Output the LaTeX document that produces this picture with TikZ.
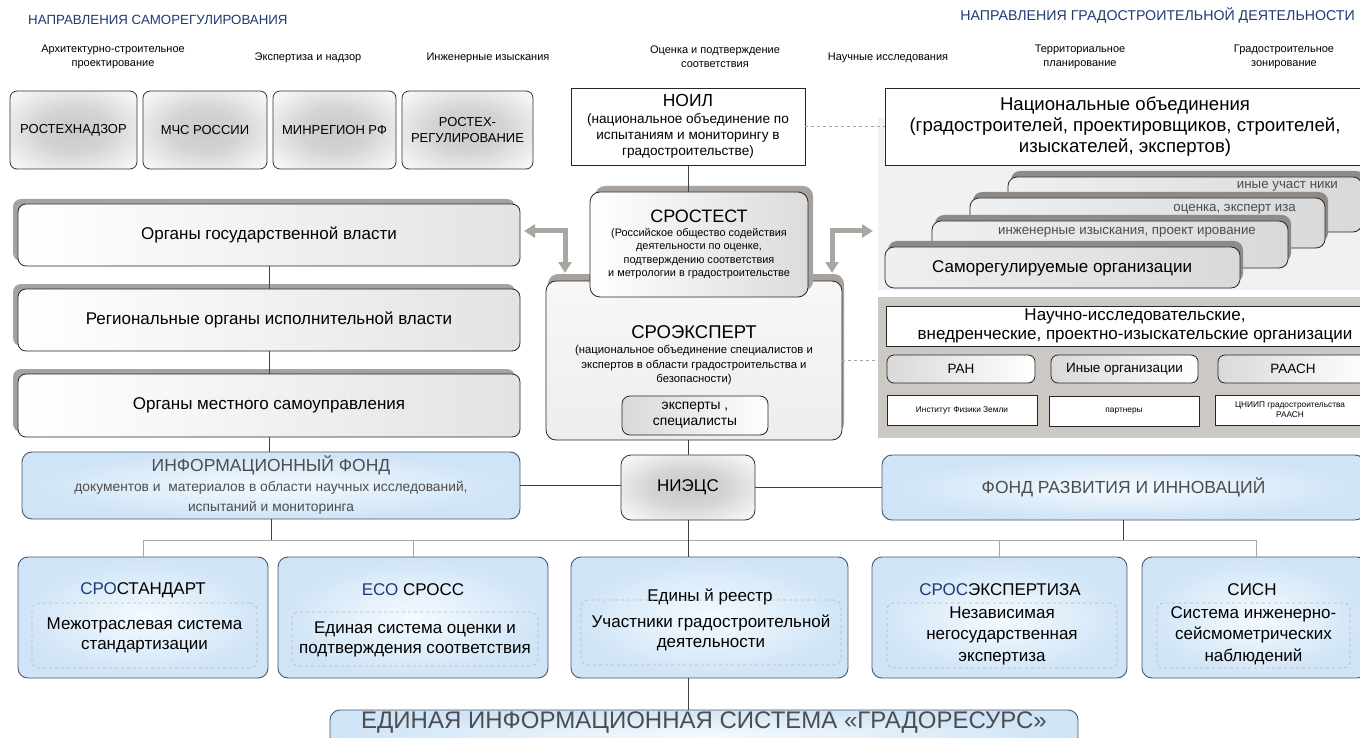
\documentclass[tikz,border=0pt]{standalone}
\usepackage{fontspec}
\setmainfont{Liberation Sans}
\usetikzlibrary{shadows,arrows.meta}
\newcommand\fs[2]{\fontsize{#1}{#2}\selectfont}
\definecolor{dblue}{HTML}{1F3B73}
\definecolor{gtext}{HTML}{4D4D4D}
\definecolor{shadc}{HTML}{A8A29E}
\definecolor{shadd}{HTML}{908A86}
\definecolor{panelA}{HTML}{F1F1F1}
\definecolor{panelB}{HTML}{CCC8C4}
\definecolor{arrc}{HTML}{AAA6A2}
\definecolor{bborder}{HTML}{46566F}
\definecolor{bin}{HTML}{F4FAFF}
\definecolor{bout}{HTML}{CFE4F6}
\pgfdeclareradialshading{softgray}{\pgfpoint{0bp}{0bp}}{color(0bp)=(gray!42); color(14bp)=(gray!34); color(30bp)=(gray!10); color(40bp)=(white); color(50bp)=(white)}
\begin{document}
\begin{tikzpicture}[x=1pt,y=-1pt,
  bx/.style={anchor=north west,inner sep=0pt,outer sep=0pt,align=center},
  tlbox/.style={bx,draw=black!80,line width=0.8pt,rounded corners=7pt,shading=softgray,font=\fs{13}{15.5}},
  orgbox/.style={bx,draw=black!85,line width=0.8pt,rounded corners=8pt,left color=white,right color=gray!22,font=\fs{17}{19},
     general shadow={fill=shadc,shadow xshift=-5pt,shadow yshift=5pt}},
  card/.style={bx,draw=black!85,line width=0.8pt,rounded corners=9pt,left color=gray!12,right color=gray!30,
     general shadow={fill=shadd,shadow xshift=3pt,shadow yshift=6pt}},
  wbox/.style={bx,draw=black!85,line width=0.8pt,fill=white},
  sgray/.style={bx,draw=black!85,line width=0.8pt,rounded corners=7pt,left color=gray!30,right color=white,font=\fs{13.5}{15}},
  bluebox/.style={bx,draw=bborder,line width=0.9pt,rounded corners=10pt,inner color=bin,outer color=bout},
  inner/.style={bx,draw=gray!55,dashed,line width=0.6pt,rounded corners=7pt,font=\fs{17}{20}},
  ttl/.style={inner sep=0pt,font=\fs{17}{19}},
  lab/.style={inner sep=0pt,align=center,font=\fs{11}{14}},
  conn/.style={draw=black!75,line width=0.7pt},
  bus/.style={draw=gray!70,line width=0.9pt},
  dsh/.style={draw=gray!70,dashed,line width=0.8pt},
  garr/.style={draw=arrc,line width=5pt,{Triangle[width=13pt,length=11pt]}-{Triangle[width=13pt,length=11pt]}}
]
\useasboundingbox (0,0) rectangle (1360,738);
\fill[white] (0,0) rectangle (1360,738);

% headers
\node[inner sep=0pt,anchor=west,text=dblue,font=\fs{13.3}{15}] (h1) at (28,20) {НАПРАВЛЕНИЯ САМОРЕГУЛИРОВАНИЯ};
\node[inner sep=0pt,anchor=east,text=dblue,font=\fs{14.2}{16}] (h2) at (1355,16) {НАПРАВЛЕНИЯ ГРАДОСТРОИТЕЛЬНОЙ ДЕЯТЕЛЬНОСТИ};

% column labels
\node[lab] (l1) at (113,57) {Архитектурно-строительное\\проектирование};
\node[lab] (l2) at (308,58) {Экспертиза и надзор};
\node[lab] (l3) at (488,58) {Инженерные изыскания};
\node[lab] (l4) at (715,57) {Оценка и подтверждение\\соответствия};
\node[lab] (l5) at (888,58) {Научные исследования};
\node[lab] (l6) at (1080,57) {Территориальное\\планирование};
\node[lab] (l7) at (1284,57) {Градостроительное\\зонирование};

% top-left boxes
\node[tlbox,minimum width=127pt,minimum height=78pt] (t1) at (10,91) {РОСТЕХНАДЗОР};
\node[tlbox,minimum width=124pt,minimum height=78pt] (t2) at (143,91) {МЧС РОССИИ};
\node[tlbox,minimum width=123pt,minimum height=78pt] (t3) at (273,91) {МИНРЕГИОН РФ};
\node[tlbox,minimum width=131pt,minimum height=78pt] (t4) at (402,91) {РОСТЕХ-\\РЕГУЛИРОВАНИЕ};

% right panels
\node[bx,fill=panelA,minimum width=482pt,minimum height=172pt] (pA) at (878,118) {};
\node[bx,fill=panelB,minimum width=482pt,minimum height=141pt] (pB) at (878,297) {};

% NOIL
\node[wbox,minimum width=234pt,minimum height=77pt,font=\fs{13.6}{16.3}] (noil) at (571,88)
  {{\fs{17.5}{19}НОИЛ}\\(национальное объединение по\\испытаниям и мониторингу в\\градостроительстве)};
% national
\node[wbox,minimum width=480pt,minimum height=77pt,font=\fs{18.6}{21.3}] (natl) at (885,88)
  {Национальные объединения\\(градостроителей, проектировщиков, строителей,\\изыскателей, экспертов)};
\draw[dsh] (noil.east) -- (natl.west);

% SRO stack
\node[card,minimum width=354pt,minimum height=55pt] (c4) at (1008,177) {};
\node[inner sep=0pt,anchor=east,text=gtext,font=\fs{13.3}{15}] (c4t) at (1338,186) {иные участ ники};
\node[card,minimum width=355pt,minimum height=50pt] (c3) at (970,198) {};
\node[inner sep=0pt,anchor=east,text=gtext,font=\fs{13.3}{15}] (c3t) at (1296,209) {оценка, эксперт иза};
\node[card,minimum width=356pt,minimum height=47pt] (c2) at (932,221) {};
\node[inner sep=0pt,anchor=east,text=gtext,font=\fs{13.3}{15}] (c2t) at (1256,232) {инженерные изыскания, проект ирование};
\node[card,minimum width=355pt,minimum height=41pt] (c1) at (885,247) {};
\node[inner sep=0pt,anchor=west,font=\fs{17}{19}] (c1t) at (932,268) {Саморегулируемые организации};

% research orgs
\node[wbox,minimum width=498pt,minimum height=40pt,font=\fs{17}{19.5}] (nio) at (886,306)
  {Научно-исследовательские,\\внедренческие, проектно-изыскательские организации};
\node[sgray,minimum width=148pt,minimum height=28pt] (ran) at (887,355) {РАН};
\node[sgray,minimum width=147pt,minimum height=28pt] (ino) at (1051,355) {Иные организации};
\node[sgray,minimum width=150pt,minimum height=28pt] (raasn) at (1218,355) {РААСН};
\node[wbox,minimum width=150pt,minimum height=30pt,font=\fs{8.3}{10}] (ifz) at (887,395) {Институт Физики Земли};
\node[wbox,minimum width=150pt,minimum height=30pt,font=\fs{8.3}{10}] (part) at (1049,396) {партнеры};
\node[wbox,minimum width=150pt,minimum height=30pt,font=\fs{8.3}{10}] (cniip) at (1215,395) {ЦНИИП градостроительства\\РААСН};

% left stack
\node[orgbox,minimum width=502pt,minimum height=62pt] (o1) at (18,204) {Органы государственной власти};
\node[orgbox,minimum width=502pt,minimum height=62pt] (o2) at (18,289) {Региональные органы исполнительной власти};
\node[orgbox,minimum width=502pt,minimum height=63pt] (o3) at (18,374) {Органы местного самоуправления};
\draw[conn] (o1.south) -- (o2.north);
\draw[conn] (o2.south) -- (o3.north);

% center
\node[bx,draw=black!85,line width=0.8pt,rounded corners=10pt,top color=gray!6,bottom color=gray!14,
  general shadow={fill=shadc,shadow xshift=2pt,shadow yshift=7pt},
  minimum width=296pt,minimum height=159pt] (sroe) at (546,281) {};
\node[inner sep=0pt,align=center,font=\fs{11.3}{14.5}] (sroet) at (694,355)
  {{\fs{18.5}{20}СРОЭКСПЕРТ}\\[1pt](национальное объединение специалистов и\\экспертов в области градостроительства и\\безопасности)};
\node[bx,draw=black!85,line width=0.8pt,rounded corners=10pt,left color=white,right color=gray!28,
  general shadow={fill=shadc,shadow xshift=5pt,shadow yshift=6pt},
  minimum width=218pt,minimum height=105pt,font=\fs{10.9}{13.5}] (srot) at (590,192)
  {{\fs{18}{20}СРОСТЕСТ}\\(Российское общество содействия\\деятельности по оценке,\\подтверждению соответствия\\и метрологии в градостроительстве};
\node[sgray,rounded corners=8pt,minimum width=146pt,minimum height=39pt,font=\fs{13.8}{16}] (exp) at (622,396) {эксперты ,\\специалисты};
\draw[conn] (noil.south) -- (noil.south |- srot.north);
\draw[dsh] (sroe.east) -- (sroe.east -| pB.west);

% gray arrows
\coordinate (aL1) at (524,231);
\coordinate (aL2) at (565,273);
\coordinate (aR1) at (832,273);
\coordinate (aR2) at (873,231);
\draw[garr] (aL1) -| (aL2);
\draw[garr] (aR1) |- (aR2);

% middle row
\node[bluebox,minimum width=498pt,minimum height=67pt,text=gtext,font=\fs{13.8}{20}] (info) at (22,452)
  {{\fs{17.5}{19}ИНФОРМАЦИОННЫЙ ФОНД}\\документов и \ материалов в области научных исследований,\\испытаний и мониторинга};
\node[bx,draw=black!80,line width=0.8pt,rounded corners=10pt,shading=softgray,
  minimum width=134pt,minimum height=65pt,font=\fs{17}{19}] (niecs) at (621,455) {НИЭЦС};
\node[bluebox,minimum width=483pt,minimum height=65pt,text=gtext,font=\fs{17.5}{19}] (fond) at (882,455) {ФОНД РАЗВИТИЯ И ИННОВАЦИЙ};
\draw[conn] (o3.south) -- (o3.south |- info.north);
\draw[conn] (sroe.south -| niecs.north) -- (niecs.north);
\draw[conn] (info.east -| niecs.west) -- (info.east);
\draw[conn] (niecs.east) -- (fond.west);

% bottom boxes
\node[bluebox,minimum width=250pt,minimum height=121pt] (b1) at (18,557) {};
\node[ttl] (b1t) at (143,590) {\textcolor{dblue}{СРО}СТАНДАРТ};
\node[inner,minimum width=225pt,minimum height=65pt] (b1i) at (32,603) {Межотраслевая система\\стандартизации};

\node[bluebox,minimum width=270pt,minimum height=121pt] (b2) at (278,557) {};
\node[ttl] (b2t) at (413,590) {\textcolor{dblue}{ЕСО} СРОСС};
\node[inner,minimum width=246pt,minimum height=54pt] (b2i) at (292,612) {Единая система оценки и\\подтверждения соответствия};

\node[bluebox,minimum width=277pt,minimum height=121pt] (b3) at (571,557) {};
\node[ttl] (b3t) at (710,597) {Едины й реестр};
\node[inner,minimum width=260pt,minimum height=65pt] (b3i) at (581,600) {Участники градостроительной\\деятельности};

\node[bluebox,minimum width=255pt,minimum height=121pt] (b4) at (872,557) {};
\node[ttl] (b4t) at (1000,590) {\textcolor{dblue}{СРОС}ЭКСПЕРТИЗА};
\node[inner,minimum width=230pt,minimum height=65pt,font=\fs{17}{21.5}] (b4i) at (887,603) {Независимая\\негосударственная\\экспертиза};

\node[bluebox,minimum width=225pt,minimum height=121pt] (b5) at (1142,557) {};
\node[ttl] (b5t) at (1252,590) {СИСН};
\node[inner,minimum width=193pt,minimum height=65pt,font=\fs{17}{21.5}] (b5i) at (1157,603) {Система инженерно-\\сейсмометрических\\наблюдений};

% bus
\coordinate (busL) at (143,540);
\coordinate (busR) at (1256,540);
\draw[bus] (busL) -- (busR);
\draw[bus] (busL) -- (b1.north -| busL);
\draw[bus] (b2.north |- busL) -- (b2.north);
\draw[bus] (b4.north |- busL) -- (b4.north);
\draw[bus] (busR) -- (b5.north -| busR);
\draw[conn] (info.south) -- (info.south |- busL);
\draw[conn] (fond.south) -- (fond.south |- busL);
\draw[conn] (niecs.south) -- (niecs.south |- b3.north);

% gradoresurs
\node[bluebox,minimum width=748pt,minimum height=50pt] (gr) at (330,710) {};
\node[inner sep=0pt,text=gtext,font=\fs{24}{26}] (grt) at (704,723) {ЕДИНАЯ ИНФОРМАЦИОННАЯ СИСТЕМА «ГРАДОРЕСУРС»};
\draw[conn] (b3.south -| niecs.south) -- (gr.north -| niecs.south);
\end{tikzpicture}
\end{document}
